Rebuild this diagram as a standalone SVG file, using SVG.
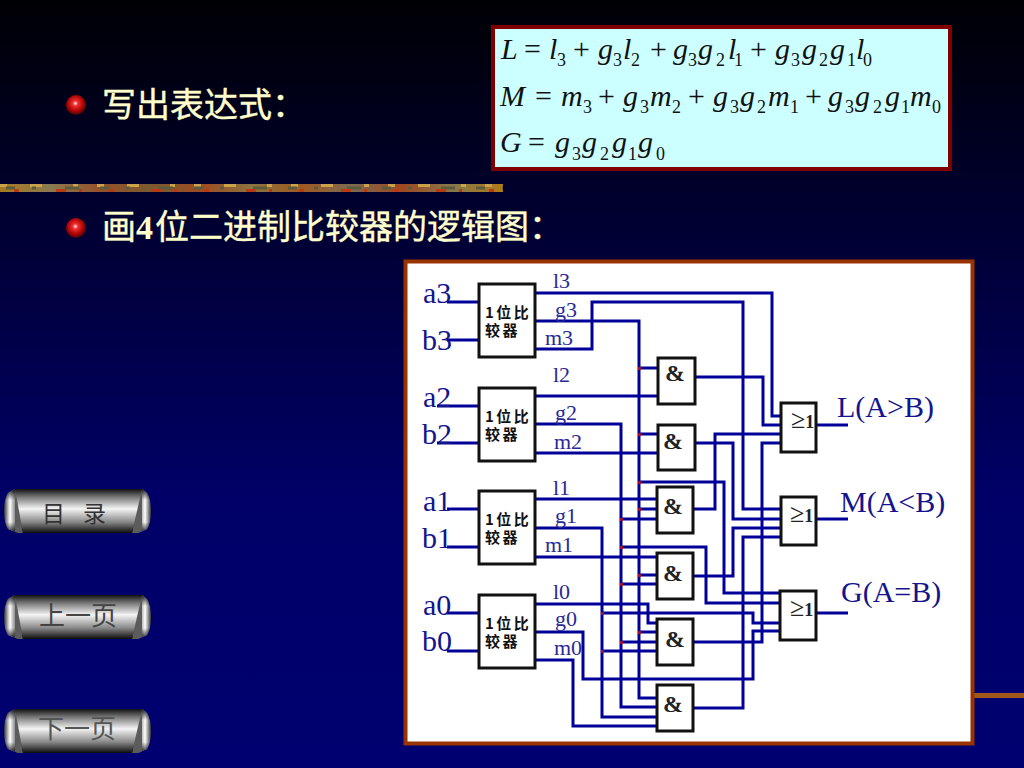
<svg xmlns="http://www.w3.org/2000/svg" width="1024" height="768" viewBox="0 0 1024 768">
<style>
.w{fill:none;stroke:#000099;stroke-width:3;stroke-linejoin:miter}
.b{fill:#fff;stroke:#111;stroke-width:3}
.io{font:30px "Liberation Serif",serif;fill:#14148c}
.sm{font:22px "Liberation Serif",serif;fill:#2a2a96}
.cmp{font:bold 15px "Noto Sans CJK SC","Liberation Sans",sans-serif;fill:#111;letter-spacing:2.5px}
.amp{font:bold 24px "Liberation Serif",serif;fill:#222}
.ge{font:26px "Liberation Serif",serif;fill:#222}
.ge1{font-size:18px;font-weight:bold}
.fi{font:italic 30px "Liberation Serif",serif;fill:#111}
.fr{font:30px "Liberation Serif",serif;fill:#111}
.fs{font:18px "Liberation Serif",serif;fill:#111}
.h{font:34px "Noto Sans CJK SC",sans-serif;fill:#ffffcc;stroke:#ffffcc;stroke-width:.4}
.h4{font:bold 34px "Liberation Serif",serif;fill:#ffffcc}
.bt{font-family:"Noto Sans CJK SC",sans-serif}
.s1{fill:none;stroke-width:3}
</style>
<defs>
<linearGradient id="bg" x1="0" y1="0" x2="0" y2="1"><stop offset="0" stop-color="#000004"/><stop offset=".25" stop-color="#00002c"/><stop offset=".65" stop-color="#000068"/><stop offset="1" stop-color="#000070"/></linearGradient>
<linearGradient id="strip"><stop offset="0" stop-color="#a87a20"/><stop offset=".1" stop-color="#8a7a50"/><stop offset=".2" stop-color="#96502a"/><stop offset=".3" stop-color="#7a5a30"/><stop offset=".4" stop-color="#a04a20"/><stop offset=".5" stop-color="#8a7440"/><stop offset=".6" stop-color="#a05a20"/><stop offset=".7" stop-color="#7c6a50"/><stop offset=".8" stop-color="#a04820"/><stop offset=".9" stop-color="#86784c"/><stop offset="1" stop-color="#b07a18"/></linearGradient>
<radialGradient id="ball" cx=".47" cy=".42" r=".58"><stop offset="0" stop-color="#fff0f0"/><stop offset=".22" stop-color="#f03030"/><stop offset=".7" stop-color="#a80000"/><stop offset="1" stop-color="#3a0c0c"/></radialGradient>
<linearGradient id="metal" x1="0" y1="0" x2="0" y2="1"><stop offset="0" stop-color="#111"/><stop offset=".18" stop-color="#777"/><stop offset=".45" stop-color="#f4f4f4"/><stop offset=".75" stop-color="#888"/><stop offset="1" stop-color="#0c0c0c"/></linearGradient>
<linearGradient id="capL"><stop offset="0" stop-color="#333"/><stop offset=".33" stop-color="#fff"/><stop offset=".75" stop-color="#555"/></linearGradient>
<linearGradient id="capR"><stop offset=".25" stop-color="#555"/><stop offset=".67" stop-color="#fff"/><stop offset="1" stop-color="#333"/></linearGradient>
<linearGradient id="shade" x1="0" y1="0" x2="0" y2="1"><stop offset="0" stop-color="#000" stop-opacity=".9"/><stop offset=".25" stop-color="#000" stop-opacity="0"/><stop offset=".75" stop-color="#000" stop-opacity="0"/><stop offset="1" stop-color="#000" stop-opacity=".9"/></linearGradient>
<clipPath id="bc"><path d="M15 0H142L147 4Q151 10 151 22Q151 34 147 40L138 44H18L8 40Q4 34 4 22Q4 10 8 4Z"/></clipPath>
<g id="btn"><g clip-path="url(#bc)">
<rect x="4" y="0" width="18" height="44" fill="url(#capL)"/>
<rect x="133" y="0" width="18" height="44" fill="url(#capR)"/>
<rect x="4" y="0" width="147" height="44" fill="url(#shade)"/>
<path d="M15 0L23 44H15ZM142 0L132 44H142Z" fill="#5c5c5c"/>
<path d="M15 0H142L132 44H23Z" fill="url(#metal)"/>
</g></g>
<g id="mott">
<path class="s1" stroke="#c9a24a" stroke-dasharray="7 23 12 31 5 19" d="M0 1.500H503"/>
<path class="s1" stroke="#5e5a3c" stroke-dasharray="9 17 4 29 14 21" d="M6 4H503"/>
<path class="s1" stroke="#b83a14" stroke-dasharray="5 37 10 13 3 27" d="M14 6.500H503"/>
</g>
</defs>
<rect width="1024" height="768" fill="url(#bg)"/>
<rect x="0" y="184" width="503" height="8" fill="url(#strip)"/>
<use href="#mott" y="184"/>
<rect x="970" y="693" width="54" height="5" fill="#a0581c"/>

<g id="bullet1"><circle cx="76" cy="105" r="10" fill="url(#ball)"/><text class="h" x="102" y="117">写出表达式：</text></g>
<g id="bullet2"><circle cx="76" cy="228" r="10" fill="url(#ball)"/><text class="h" x="102" y="239">画</text><text class="h4" x="136" y="239">4</text><text class="h" x="155" y="239">位二进制比较器的逻辑图：</text></g>

<g id="formula">
<rect x="493" y="27" width="457" height="142" fill="#ccffff" stroke="#800000" stroke-width="4"/>
<text class="fi" x="501" y="59">L</text><text class="fr" x="524" y="59">=</text><text class="fi" x="549" y="59">l</text><text class="fs" x="557" y="66">3</text><text class="fr" x="573" y="59">+</text><text class="fi" x="598" y="59">g</text><text class="fs" x="613" y="66">3</text><text class="fi" x="623" y="59">l</text><text class="fs" x="631" y="66">2</text><text class="fr" x="650" y="59">+</text><text class="fi" x="673" y="59">g</text><text class="fs" x="688" y="66">3</text><text class="fi" x="698" y="59">g</text><text class="fs" x="716" y="66">2</text><text class="fi" x="728" y="59">l</text><text class="fs" x="734" y="66">1</text><text class="fr" x="750" y="59">+</text><text class="fi" x="775" y="59">g</text><text class="fs" x="791" y="66">3</text><text class="fi" x="802" y="59">g</text><text class="fs" x="819" y="66">2</text><text class="fi" x="830" y="59">g</text><text class="fs" x="847" y="66">1</text><text class="fi" x="856" y="59">l</text><text class="fs" x="863" y="66">0</text>
<text class="fi" x="500" y="106">M</text><text class="fr" x="535" y="106">=</text><text class="fi" x="561" y="106">m</text><text class="fs" x="583" y="113">3</text><text class="fr" x="598" y="106">+</text><text class="fi" x="623" y="106">g</text><text class="fs" x="640" y="113">3</text><text class="fi" x="650" y="106">m</text><text class="fs" x="672" y="113">2</text><text class="fr" x="688" y="106">+</text><text class="fi" x="713" y="106">g</text><text class="fs" x="730" y="113">3</text><text class="fi" x="740" y="106">g</text><text class="fs" x="757" y="113">2</text><text class="fi" x="768" y="106">m</text><text class="fs" x="790" y="113">1</text><text class="fr" x="805" y="106">+</text><text class="fi" x="828" y="106">g</text><text class="fs" x="845" y="113">3</text><text class="fi" x="855" y="106">g</text><text class="fs" x="873" y="113">2</text><text class="fi" x="885" y="106">g</text><text class="fs" x="901" y="113">1</text><text class="fi" x="910" y="106">m</text><text class="fs" x="932" y="113">0</text>
<text class="fi" x="500" y="152">G</text><text class="fr" x="528" y="152">=</text><text class="fi" x="555" y="152">g</text><text class="fs" x="572" y="160">3</text><text class="fi" x="582" y="152">g</text><text class="fs" x="600" y="160">2</text><text class="fi" x="612" y="152">g</text><text class="fs" x="628" y="160">1</text><text class="fi" x="638" y="152">g</text><text class="fs" x="656" y="160">0</text>
</g>

<g id="nav">
<g id="btn-menu"><use href="#btn" y="489"/><text class="bt" x="42" y="522" font-size="23" fill="#333">目</text><text class="bt" x="83" y="522" font-size="23" fill="#333">录</text></g>
<g id="btn-prev"><use href="#btn" y="595"/><text class="bt" x="39" y="625" font-size="26" fill="#444">上一页</text></g>
<g id="btn-next"><use href="#btn" y="709"/><text class="bt" x="38" y="738" font-size="26" fill="#555">下一页</text></g>
</g>

<rect x="405.500" y="261.500" width="567" height="482" fill="#fff" stroke="#993300" stroke-width="4"/>

<g id="connectors">
<path class="w" d="M447 302H479M447 340H479M437 406H479M437 443H479M447 509H479M447 547H479M447 613H479M447 651H479"/>
<path class="w" d="M535 293H772V416H781"/>
<path class="w" d="M535 349H592V302H743V509H781"/>
<path class="w" d="M535 321H639V698H657"/>
<path class="w" d="M535 396H658"/>
<path class="w" d="M535 424H621V707H657"/>
<path class="w" d="M535 453H658"/>
<path class="w" d="M535 499H657"/>
<path class="w" d="M535 528H602V717H657"/>
<path class="w" d="M535 557H658"/>
<path class="w" d="M535 604H648V623H657"/>
<path class="w" d="M535 632H583V679H753V631H781"/>
<path class="w" d="M535 660H573V726H657"/>
<path class="w" d="M639 368H658M639 434H658M639 509H657M621 519H657M639 575H658M621 584H658M639 632H657M621 642H657M602 651H657"/>
<path class="w" d="M639 482H724V593H781"/>
<path class="w" d="M621 547H706V603H781"/>
<path class="w" d="M602 613H753V623H781"/>
<path class="w" d="M695 377H763V425H781"/>
<path class="w" d="M695 443H733V519H781"/>
<path class="w" d="M693 509H715V434H781"/>
<path class="w" d="M693 576H733V528H781"/>
<path class="w" d="M693 642H762V443H781"/>
<path class="w" d="M693 708H743V537H781"/>
<path class="w" d="M816 425H848M816 519H848M816 613H848"/>
<path d="M638 367h3v3h-3zM638 433h3v3h-3zM638 481h3v3h-3zM638 508h3v3h-3zM638 574h3v3h-3zM638 631h3v3h-3zM620 518h3v3h-3zM620 546h3v3h-3zM620 583h3v3h-3zM620 641h3v3h-3zM601 612h3v3h-3zM601 650h3v3h-3z" fill="#a01030"/>
</g>

<g id="cmp3"><rect class="b" x="479" y="284" width="56" height="73"/><text class="cmp" x="485" y="318">1位比</text><text class="cmp" x="485" y="336">较器</text></g>
<g id="cmp2"><rect class="b" x="479" y="388" width="56" height="73"/><text class="cmp" x="485" y="422">1位比</text><text class="cmp" x="485" y="440">较器</text></g>
<g id="cmp1"><rect class="b" x="479" y="491" width="56" height="73"/><text class="cmp" x="485" y="525">1位比</text><text class="cmp" x="485" y="543">较器</text></g>
<g id="cmp0"><rect class="b" x="479" y="595" width="56" height="73"/><text class="cmp" x="485" y="629">1位比</text><text class="cmp" x="485" y="647">较器</text></g>

<g id="and1"><rect class="b" x="658" y="358" width="37" height="46"/><text class="amp" x="665" y="381">&amp;</text></g>
<g id="and2"><rect class="b" x="658" y="425" width="37" height="45"/><text class="amp" x="663" y="449">&amp;</text></g>
<g id="and3"><rect class="b" x="657" y="487" width="36" height="46"/><text class="amp" x="663" y="514">&amp;</text></g>
<g id="and4"><rect class="b" x="657" y="553" width="36" height="46"/><text class="amp" x="663" y="581">&amp;</text></g>
<g id="and5"><rect class="b" x="657" y="619" width="36" height="46"/><text class="amp" x="665" y="647">&amp;</text></g>
<g id="and6"><rect class="b" x="657" y="685" width="36" height="46"/><text class="amp" x="663" y="712">&amp;</text></g>

<g id="or1"><rect class="b" x="781" y="403" width="35" height="49"/><text class="ge" x="791" y="428">≥<tspan class="ge1">1</tspan></text></g>
<g id="or2"><rect class="b" x="781" y="497" width="35" height="48"/><text class="ge" x="790" y="522">≥<tspan class="ge1">1</tspan></text></g>
<g id="or3"><rect class="b" x="780" y="591" width="36" height="49"/><text class="ge" x="790" y="616">≥<tspan class="ge1">1</tspan></text></g>

<g id="labels">
<text class="io" x="423" y="303">a3</text><text class="io" x="422" y="350">b3</text>
<text class="io" x="423" y="407">a2</text><text class="io" x="422" y="444">b2</text>
<text class="io" x="423" y="511">a1</text><text class="io" x="422" y="548">b1</text>
<text class="io" x="423" y="615">a0</text><text class="io" x="422" y="651">b0</text>
<text class="sm" x="553" y="288">l3</text><text class="sm" x="555" y="317">g3</text><text class="sm" x="545" y="345">m3</text>
<text class="sm" x="553" y="382">l2</text><text class="sm" x="555" y="420">g2</text><text class="sm" x="554" y="449">m2</text>
<text class="sm" x="553" y="495">l1</text><text class="sm" x="555" y="523">g1</text><text class="sm" x="545" y="552">m1</text>
<text class="sm" x="553" y="599">l0</text><text class="sm" x="555" y="626">g0</text><text class="sm" x="554" y="655">m0</text>
<text class="io" x="837" y="417">L(A&gt;B)</text>
<text class="io" x="840" y="512">M(A&lt;B)</text>
<text class="io" x="841" y="602">G(A=B)</text>
</g>
</svg>
